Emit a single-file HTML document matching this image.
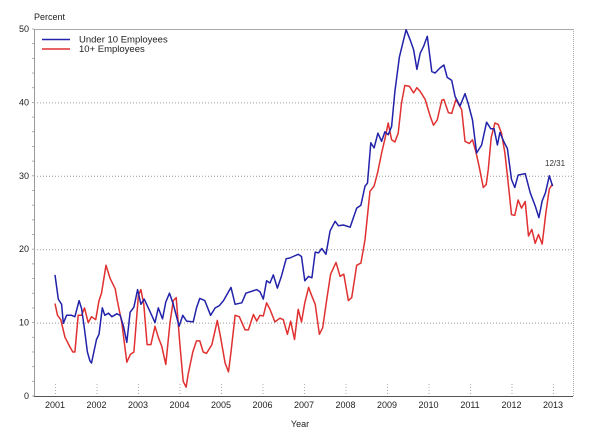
<!DOCTYPE html>
<html><head><meta charset="utf-8"><style>
html,body{margin:0;padding:0;background:#fff;}
svg{display:block;font-family:"Liberation Sans",sans-serif;}
</style></head><body>
<svg id="chart" width="600" height="432">
<text x="34" y="20" font-size="9" fill="#222">Percent</text>
<text x="300" y="427" font-size="9" fill="#222" text-anchor="middle">Year</text>
<g id="grid"></g><g id="axes"></g><g id="series"></g>
<g>
<line x1="42" y1="39.5" x2="70" y2="39.5" stroke="#2222aa" stroke-width="1.6"/>
<text x="79" y="42.5" font-size="9.5" fill="#222">Under 10 Employees</text>
<line x1="42" y1="49" x2="70" y2="49" stroke="#e03030" stroke-width="1.6"/>
<text x="79" y="52" font-size="9.5" fill="#222">10+ Employees</text>
</g>
<text x="545" y="166" font-size="8" fill="#333">12/31</text>
</svg>
<script>
const yTicks=[0,10,20,30,40,50];
const xTicks=[2001,2002,2003,2004,2005,2006,2007,2008,2009,2010,2011,2012,2013];
const blueDates=[2001.0,2001.08,2001.16,2001.2,2001.28,2001.4,2001.48,2001.58,2001.64,2001.7,2001.78,2001.84,2001.88,2002.0,2002.06,2002.14,2002.2,2002.29,2002.37,2002.49,2002.57,2002.65,2002.73,2002.81,2002.9,2002.99,2003.07,2003.15,2003.29,2003.41,2003.49,2003.59,2003.67,2003.76,2003.85,2003.99,2004.08,2004.17,2004.33,2004.41,2004.49,2004.61,2004.75,2004.86,2004.96,2005.06,2005.24,2005.34,2005.5,2005.6,2005.86,2005.94,2006.02,2006.1,2006.18,2006.26,2006.36,2006.46,2006.57,2006.66,2006.74,2006.86,2006.94,2007.02,2007.11,2007.19,2007.27,2007.35,2007.43,2007.53,2007.63,2007.75,2007.83,2007.95,2008.11,2008.27,2008.37,2008.47,2008.53,2008.61,2008.69,2008.78,2008.87,2008.95,2009.03,2009.11,2009.19,2009.3,2009.46,2009.56,2009.64,2009.72,2009.8,2009.88,2009.97,2010.08,2010.16,2010.28,2010.37,2010.45,2010.56,2010.64,2010.76,2010.88,2010.96,2011.06,2011.16,2011.28,2011.4,2011.5,2011.58,2011.66,2011.72,2011.82,2011.9,2012.0,2012.08,2012.16,2012.33,2012.45,2012.57,2012.66,2012.74,2012.82,2012.91,2012.99];
const blueValues=[16.5,13.2,12.5,9.9,11,11,10.8,13,11.9,9.5,6,4.8,4.5,7.7,8.4,12,11,11.3,10.8,11.2,11,9.5,7.3,11.4,12.1,14.5,12.5,13.2,11.5,10,12,10.5,12.8,14,12.5,9.5,11,10.2,10.1,12,13.3,13,11,12,12.3,13,14.8,12.5,12.7,14,14.5,14.2,13.2,15.7,15.4,16.5,14.7,16.4,18.7,18.8,19,19.3,19,15.7,16.3,16.1,19.6,19.5,20.1,19.3,22.5,23.8,23.2,23.3,23,25.6,26,28.6,29,34.5,33.8,35.8,34.7,36,35.6,36.7,41.5,46.2,49.9,48.5,47.2,44.5,46.7,47.6,49,44.2,44,44.7,45.1,43.4,43,40.8,39.5,41.2,39.8,37.6,33.1,34.2,37.3,36.4,36.4,34.2,35.9,34.6,33.7,29.5,28.4,30.1,30.3,27.7,25.9,24.3,26.6,27.7,30,28.6];
const redDates=[2001.0,2001.06,2001.14,2001.24,2001.35,2001.43,2001.48,2001.56,2001.64,2001.71,2001.8,2001.88,2001.98,2002.06,2002.12,2002.23,2002.33,2002.45,2002.5,2002.61,2002.73,2002.82,2002.9,2003.01,2003.07,2003.14,2003.22,2003.31,2003.41,2003.49,2003.57,2003.67,2003.77,2003.85,2003.92,2004.01,2004.09,2004.16,2004.21,2004.32,2004.41,2004.49,2004.57,2004.65,2004.78,2004.86,2004.91,2004.99,2005.1,2005.18,2005.24,2005.34,2005.44,2005.58,2005.66,2005.78,2005.86,2005.94,2006.02,2006.1,2006.18,2006.3,2006.42,2006.5,2006.6,2006.68,2006.77,2006.86,2006.94,2007.02,2007.11,2007.19,2007.27,2007.37,2007.45,2007.55,2007.64,2007.77,2007.87,2007.96,2008.07,2008.15,2008.27,2008.37,2008.47,2008.59,2008.69,2008.78,2008.87,2008.95,2009.03,2009.11,2009.19,2009.27,2009.35,2009.43,2009.54,2009.64,2009.72,2009.8,2009.92,2010.04,2010.12,2010.21,2010.32,2010.37,2010.48,2010.56,2010.66,2010.8,2010.88,2010.98,2011.06,2011.14,2011.22,2011.32,2011.39,2011.44,2011.51,2011.6,2011.68,2011.76,2011.84,2011.92,2012.0,2012.08,2012.16,2012.24,2012.33,2012.41,2012.49,2012.57,2012.65,2012.74,2012.83,2012.91,2012.99];
const redValues=[12.6,11,10.4,8,6.8,6,6,11,11,12,10,10.8,10.4,13,14,17.8,16,14.6,13,10,4.6,5.7,6,13.7,14.5,12.5,7,7,9.5,8,6.8,4.3,10,13,13.4,7,2,1.2,3,6,7.5,7.5,6,5.8,7,9,10.3,8,4.5,3.3,6,11,10.8,9,9,11.1,10.2,11,10.9,12.7,11.8,10.1,10.6,10.4,8.4,10.2,7.7,11.8,10.1,12.7,14.8,13.6,12.5,8.4,9.3,13.2,16.6,18.2,16.3,16.6,13,13.4,17.8,18.1,21.3,27.9,28.6,30.6,33.1,35,37.2,34.9,34.6,35.8,39.9,42.3,42.2,41.3,42,41.5,40.4,38.1,36.9,37.6,40.3,40.4,38.6,38.5,40.4,39,34.7,34.4,34.9,33.3,31.3,28.4,28.8,30.9,35.2,37.2,37,35.8,33.1,29,24.7,24.6,26.7,25.6,26.5,21.8,22.7,20.8,22,20.7,25,28.2,28.9];

{
const NS='http://www.w3.org/2000/svg';
const L=34,R=573,T=29,B=396,X0=55,PXY=41.5;
const xs=v=>X0+(v-2001)*PXY;
const ys=v=>B-(v/50)*(B-T);
const mk=(tag,attrs,parent)=>{const e=document.createElementNS(NS,tag);for(const k in attrs)e.setAttribute(k,attrs[k]);parent.appendChild(e);return e;};
const gridG=document.getElementById('grid'),axesG=document.getElementById('axes'),serG=document.getElementById('series');
yTicks.forEach(v=>{
  if(v>0&&v<50){const g=mk('line',{x1:L,x2:R,y1:ys(v)+0.5,y2:ys(v)+0.5,stroke:'#999','stroke-width':1,'stroke-dasharray':'1,2'},gridG);
  
  }
  const t=mk('text',{x:L-5,y:ys(v)+3,'font-size':9,'text-anchor':'end',fill:'#222'},axesG);t.textContent=v;
  
  
});
for(let v=0;v<=50;v+=2){const tk=mk('line',{x1:L-2,x2:L,y1:ys(v),y2:ys(v),stroke:'#999','stroke-width':0.8},axesG);

}
xTicks.forEach(v=>{
  const g=mk('line',{x1:xs(v)+0.5,x2:xs(v)+0.5,y1:B-12,y2:B,stroke:'#aaa','stroke-width':1,'stroke-dasharray':'1,2'},gridG);
  
  
  const t=mk('text',{x:xs(v),y:B+12,'font-size':9,'text-anchor':'middle',fill:'#222'},axesG);t.textContent=v;
  
  
});
const topBorder=mk('line',{x1:L,x2:R,y1:T+0.5,y2:T+0.5,stroke:'#aaa','stroke-width':1},axesG);


const rightBorder=mk('line',{x1:R+0.5,x2:R+0.5,y1:T,y2:B,stroke:'#aaa','stroke-width':1,'stroke-dasharray':'1,1'},axesG);


const yAxisLine=mk('line',{x1:L+0.5,x2:L+0.5,y1:T,y2:B,stroke:'#999','stroke-width':1},axesG);


const xAxisLine=mk('line',{x1:L,x2:R,y1:B+0.5,y2:B+0.5,stroke:'#555','stroke-width':1},axesG);


const drawLine=(dates,vals,color,name)=>{
  const d=dates.map((t,i)=>(i?'L':'M')+xs(t).toFixed(1)+','+ys(vals[i]).toFixed(1)).join('');
  const p=mk('path',{d:d,fill:'none',stroke:color,'stroke-width':1.5,'stroke-linejoin':'round'},serG);
  
  
};
drawLine(redDates,redValues,'#e03030','series-10-plus-employees');
drawLine(blueDates,blueValues,'#2222aa','series-under-10-employees');
}
</script>
</body></html>
